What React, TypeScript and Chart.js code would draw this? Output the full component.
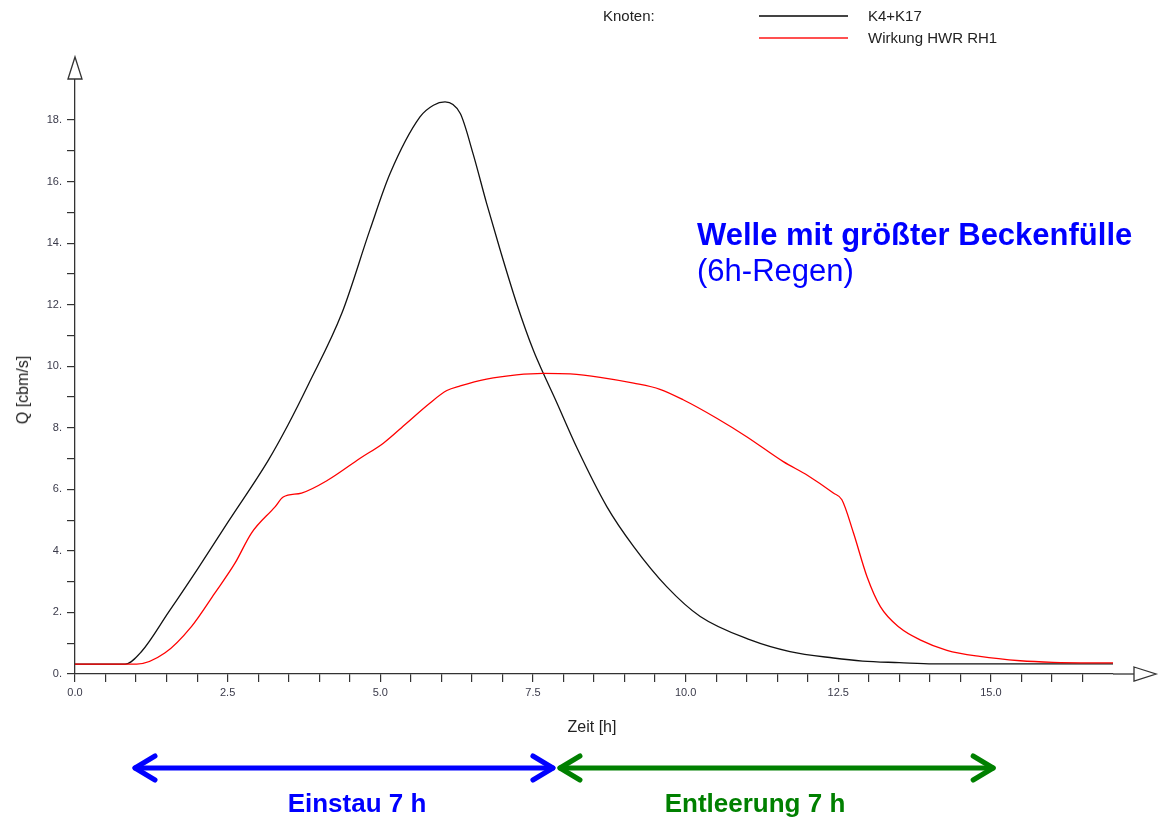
import React, { useEffect, useRef } from "react";
import { Chart, registerables } from "chart.js";

Chart.register(...registerables);

// ---- data ----
const seriesNames = ["K4+K17", "Wirkung HWR RH1"];

const blackTime = [0, 0.82, 1.09, 1.53, 2.02, 2.51, 3.17, 3.49, 3.82, 4.37, 4.83, 5.16, 5.65, 5.87, 6.06, 6.31, 6.52, 6.74, 6.96, 7.24, 7.51, 7.67, 7.86, 8.22, 8.71, 9.15, 9.69, 10.24, 11.06, 11.71, 12.42, 12.9, 13.5, 14.06, 15.0, 17.0];
const blackQ = [0.32, 0.32, 0.73, 2.0, 3.45, 4.95, 6.96, 8.1, 9.4, 11.72, 14.43, 16.26, 18.1, 18.48, 18.59, 18.21, 16.9, 15.3, 13.8, 12.0, 10.5, 9.77, 8.95, 7.35, 5.44, 4.14, 2.84, 1.87, 1.11, 0.73, 0.52, 0.42, 0.37, 0.33, 0.33, 0.33];

const redTime = [0, 1.01, 1.47, 1.91, 2.29, 2.62, 2.89, 3.28, 3.41, 3.71, 4.15, 4.67, 5.05, 5.43, 5.81, 6.09, 6.31, 6.74, 7.23, 7.67, 8.11, 8.6, 9.15, 9.58, 9.96, 10.51, 11.0, 11.6, 12.0, 12.42, 12.56, 12.75, 12.97, 13.19, 13.51, 13.84, 14.28, 14.82, 15.48, 16.02, 17.0];
const redQ = [0.32, 0.32, 0.68, 1.55, 2.63, 3.6, 4.58, 5.44, 5.75, 5.88, 6.31, 7.01, 7.5, 8.15, 8.8, 9.21, 9.36, 9.58, 9.72, 9.77, 9.75, 9.64, 9.45, 9.25, 8.91, 8.31, 7.71, 6.9, 6.45, 5.88, 5.66, 4.58, 3.17, 2.19, 1.5, 1.11, 0.77, 0.57, 0.43, 0.38, 0.36];

// phase arrows below the chart (in hours on the time axis)
const phaseLabels = ["Einstau 7 h", "Entleerung 7 h"];
const phaseStart = [0.95, 7.91];
const phaseEnd = [7.86, 15.07];
const phaseColors = ["#0000ff", "#008000"];

const xMax = 17;
const yMax = 19.3;

const FONT = "'Liberation Sans', Arial, Helvetica, sans-serif";

const arrowPlugin = {
  id: "arrows",
  afterDraw(chart: any) {
    const { ctx, chartArea, scales } = chart;
    const x0 = chartArea.left;
    const yb = chartArea.bottom;
    ctx.save();
    ctx.strokeStyle = "#333";
    ctx.lineWidth = 1.3;
    // extend x axis
    ctx.beginPath();
    ctx.moveTo(chartArea.right, yb);
    ctx.lineTo(1134, yb);
    ctx.stroke();
    // x arrow head
    ctx.fillStyle = "#fff";
    ctx.beginPath();
    ctx.moveTo(1134, yb - 7);
    ctx.lineTo(1156, yb);
    ctx.lineTo(1134, yb + 7);
    ctx.closePath();
    ctx.fill();
    ctx.stroke();
    // y arrow head
    const yt = chartArea.top - 1;
    ctx.beginPath();
    ctx.moveTo(x0 - 7, yt);
    ctx.lineTo(x0, 57);
    ctx.lineTo(x0 + 7, yt);
    ctx.closePath();
    ctx.fill();
    ctx.stroke();

    // phase arrows
    const y = 768;
    ctx.lineWidth = 5;
    ctx.lineCap = "round";
    ctx.lineJoin = "round";
    for (let i = 0; i < phaseLabels.length; i++) {
      const a = scales.x.getPixelForValue(phaseStart[i]);
      const b = scales.x.getPixelForValue(phaseEnd[i]);
      ctx.strokeStyle = phaseColors[i];
      ctx.beginPath();
      ctx.moveTo(a + 2, y);
      ctx.lineTo(b - 2, y);
      ctx.stroke();
      ctx.beginPath();
      ctx.moveTo(a + 22, y - 12);
      ctx.lineTo(a + 2, y);
      ctx.lineTo(a + 22, y + 12);
      ctx.stroke();
      ctx.beginPath();
      ctx.moveTo(b - 22, y - 12);
      ctx.lineTo(b - 2, y);
      ctx.lineTo(b - 22, y + 12);
      ctx.stroke();
    }
    ctx.restore();
  },
};

export default function App() {
  const ref = useRef<HTMLCanvasElement | null>(null);

  useEffect(() => {
    if (!ref.current) return;
    const chart = new Chart(ref.current, {
      type: "line",
      data: {
        datasets: [
          {
            label: seriesNames[0],
            data: blackTime.map((t, i) => ({ x: t, y: blackQ[i] })),
            borderColor: "#111111",
            borderWidth: 1.3,
            pointRadius: 0,
            cubicInterpolationMode: "monotone",
            order: 1,
          },
          {
            label: seriesNames[1],
            data: redTime.map((t, i) => ({ x: t, y: redQ[i] })),
            borderColor: "#ff0000",
            borderWidth: 1.3,
            pointRadius: 0,
            cubicInterpolationMode: "monotone",
            order: 0,
          },
        ],
      },
      options: {
        responsive: false,
        animation: false,
        layout: { padding: { top: 80, right: 46, left: 0, bottom: 0 } },
        plugins: { legend: { display: false }, tooltip: { enabled: false } },
        scales: {
          x: {
            type: "linear",
            min: 0,
            max: xMax,
            afterFit: (s: any) => {
              s.height = 149;
            },
            afterBuildTicks: (s: any) => {
              s.ticks = s.ticks.filter((t: any) => t.value <= 16.5 + 1e-9);
            },
            border: { display: true, color: "#333", width: 1.3 },
            grid: { drawOnChartArea: false, drawTicks: true, tickLength: 8, color: "#333", lineWidth: 1.2 },
            ticks: {
              stepSize: 0.5,
              includeBounds: false,
              autoSkip: false,
              maxRotation: 0,
              padding: 4,
              color: "#3a3a4a",
              font: { family: FONT, size: 11 },
              callback: (v: any) => {
                const n = Number(v);
                return Math.abs(n / 2.5 - Math.round(n / 2.5)) < 1e-9 ? n.toFixed(1) : "";
              },
            },
          },
          y: {
            type: "linear",
            min: 0,
            max: yMax,
            afterFit: (s: any) => {
              s.width = 75;
            },
            afterBuildTicks: (s: any) => {
              s.ticks = s.ticks.filter((t: any) => t.value <= 18 + 1e-9);
            },
            border: { display: true, color: "#333", width: 1.3 },
            grid: { drawOnChartArea: false, drawTicks: true, tickLength: 8, color: "#333", lineWidth: 1.2 },
            ticks: {
              stepSize: 1,
              includeBounds: false,
              autoSkip: false,
              padding: 5,
              color: "#3a3a4a",
              font: { family: FONT, size: 11 },
              callback: (v: any) => {
                const n = Number(v);
                return Math.round(n) % 2 === 0 ? `${Math.round(n)}.` : "";
              },
            },
          },
        },
      },
      plugins: [arrowPlugin],
    });
    return () => chart.destroy();
  }, []);

  const abs = (s: React.CSSProperties): React.CSSProperties => ({ position: "absolute", whiteSpace: "nowrap", ...s });

  return (
    <div style={{ position: "absolute", left: 0, top: 0, width: 1159, height: 823, background: "#fff", fontFamily: FONT, overflow: "hidden" }}>
      <canvas ref={ref} width={1159} height={823} style={{ position: "absolute", left: 0, top: 0, width: 1159, height: 823 }} />

      {/* legend */}
      <div style={abs({ left: 603, top: 7, fontSize: 15, color: "#222", lineHeight: "18px" })}>Knoten:</div>
      <div style={abs({ left: 759, top: 15, width: 89, height: 0, borderTop: "2px solid #444" })} />
      <div style={abs({ left: 868, top: 7, fontSize: 15, color: "#222", lineHeight: "18px" })}>{seriesNames[0]}</div>
      <div style={abs({ left: 759, top: 37, width: 89, height: 0, borderTop: "2px solid #ff5050" })} />
      <div style={abs({ left: 868, top: 29, fontSize: 15, color: "#222", lineHeight: "18px" })}>{seriesNames[1]}</div>

      {/* annotation */}
      <div style={abs({ left: 697, top: 217, fontSize: 31, fontWeight: "bold", color: "#0000ff", lineHeight: "36px" })}>
        Welle mit größter Beckenfülle
      </div>
      <div style={abs({ left: 697, top: 253, fontSize: 31, color: "#0000ff", lineHeight: "36px" })}>(6h-Regen)</div>

      {/* axis titles */}
      <div style={abs({ left: 592, top: 717, fontSize: 16, color: "#222", transform: "translateX(-50%)", lineHeight: "20px" })}>Zeit [h]</div>
      <div
        style={abs({
          left: 23,
          top: 390,
          fontSize: 16,
          color: "#222",
          lineHeight: "20px",
          transform: "translate(-50%, -50%) rotate(-90deg)",
        })}
      >
        Q [cbm/s]
      </div>

      {/* phase labels */}
      {phaseLabels.map((p, i) => (
        <div
          key={p}
          style={abs({
            left: i === 0 ? 357 : 755,
            top: 803,
            fontSize: 26,
            fontWeight: "bold",
            color: phaseColors[i],
            lineHeight: "30px",
            transform: "translate(-50%, -50%)",
          })}
        >
          {p}
        </div>
      ))}
    </div>
  );
}
